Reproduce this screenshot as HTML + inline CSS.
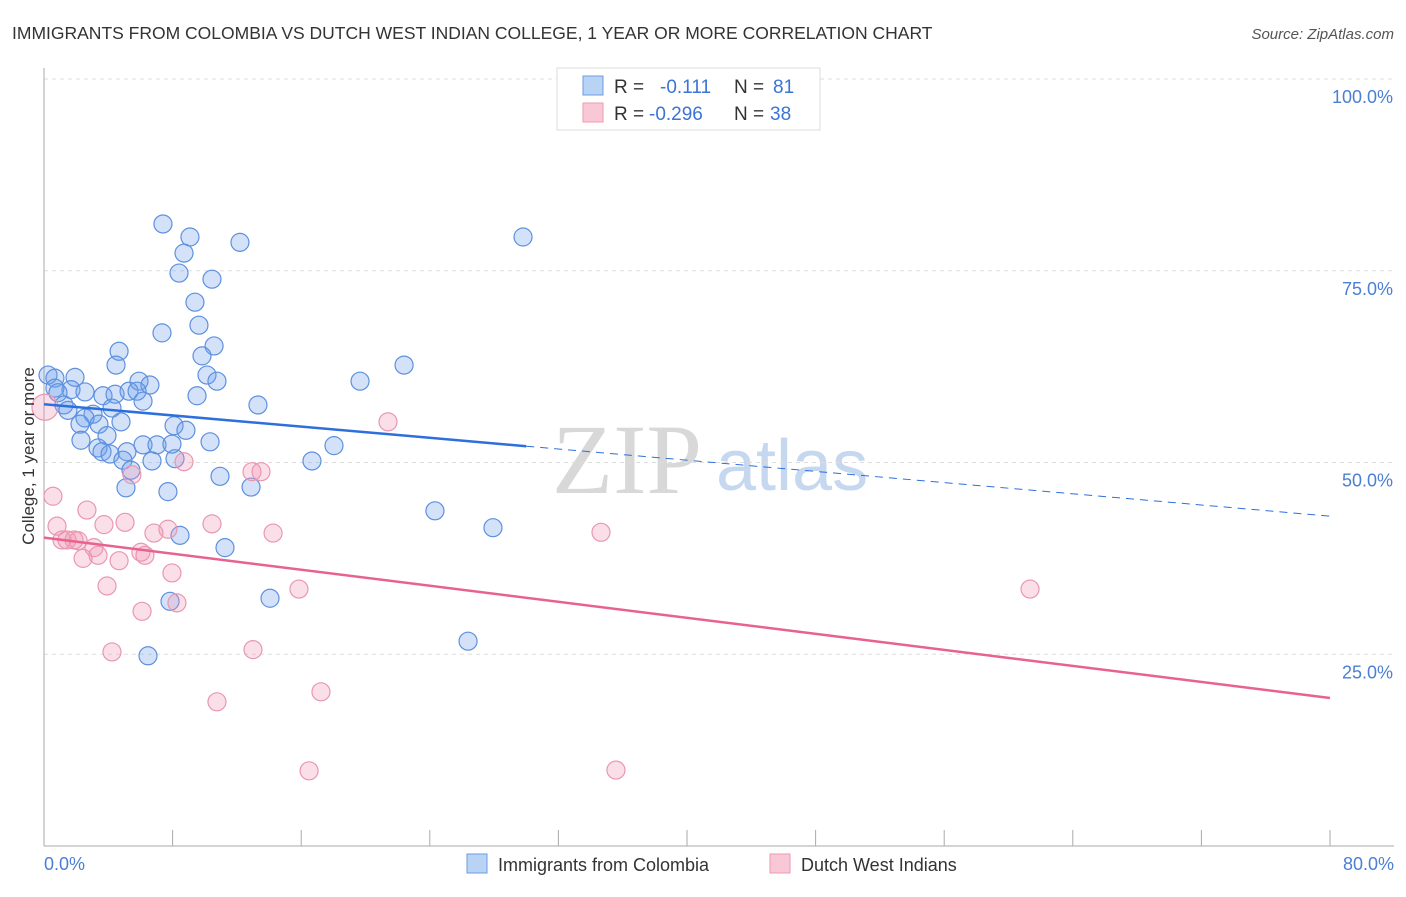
<!DOCTYPE html>
<html><head><meta charset="utf-8"><style>
body{margin:0;background:#fff;font-family:"Liberation Sans",sans-serif;}
svg text{font-family:"Liberation Sans",sans-serif;}
</style></head><body>
<svg id="chart" width="1406" height="892" xmlns="http://www.w3.org/2000/svg">
<text x="12" y="39" font-size="17.5" fill="#333">IMMIGRANTS FROM COLOMBIA VS DUTCH WEST INDIAN COLLEGE, 1 YEAR OR MORE CORRELATION CHART</text>
<text x="1394" y="39" font-size="15" fill="#555" text-anchor="end" font-style="italic">Source: ZipAtlas.com</text>
<g>
<text x="552" y="493" font-size="100" fill="#d8d8d8" font-family="Liberation Serif, serif" style="font-family:'Liberation Serif',serif">ZIP</text>
<text x="716" y="490" font-size="72" fill="#c6d8ef">atlas</text>
</g>
<g id="grid"></g>
<g id="axes"></g>
<g id="marks"></g>
<text transform="translate(34,456) rotate(-90)" font-size="17" fill="#333" text-anchor="middle">College, 1 year or more</text>
<text x="44" y="870" font-size="18" fill="#4a7fd4">0.0%</text>
<text x="1394" y="870" font-size="18" fill="#4a7fd4" text-anchor="end">80.0%</text>
<g>
<rect x="557" y="68" width="263" height="62" fill="#fff" stroke="#ddd"/>
<rect x="583" y="76" width="20" height="19" fill="#b9d3f5" stroke="#6a9be0"/>
<rect x="583" y="103" width="20" height="19" fill="#f9c8d6" stroke="#ec9ab2"/>
<text x="614" y="93" font-size="19" fill="#333">R =</text>
<text x="660" y="93" font-size="19" fill="#3a74d4">-0.111</text>
<text x="734" y="93" font-size="19" fill="#333">N =</text>
<text x="773" y="93" font-size="19" fill="#3a74d4">81</text>
<text x="614" y="120" font-size="19" fill="#333">R =</text>
<text x="649" y="120" font-size="19" fill="#3a74d4">-0.296</text>
<text x="734" y="120" font-size="19" fill="#333">N =</text>
<text x="770" y="120" font-size="19" fill="#3a74d4">38</text>
</g>
<g>
<rect x="467" y="854" width="20" height="19" fill="#b9d3f5" stroke="#6a9be0"/>
<text x="498" y="871" font-size="18" fill="#333">Immigrants from Colombia</text>
<rect x="770" y="854" width="20" height="19" fill="#f9c8d6" stroke="#ec9ab2"/>
<text x="801" y="871" font-size="18" fill="#333">Dutch West Indians</text>
</g>
</svg>
<script>
const yTicks=[25,50,75,100];
const yTickLabels=["25.0%","50.0%","75.0%","100.0%"];
const xTicks=[0,10,20,30,40,50,60,70,80,90,100];
const blueX=[7.40,9.08,12.19,29.80,8.71,8.40,10.45,9.39,9.64,7.34,10.58,4.67,9.83,4.48,22.40,10.14,10.76,19.66,5.91,6.59,0.25,0.68,1.93,1.68,0.68,0.87,2.55,3.67,4.42,5.29,5.79,9.52,6.16,1.24,1.49,4.23,13.31,3.05,2.55,3.42,4.79,8.09,8.83,2.24,3.92,2.30,3.36,3.61,6.16,7.03,7.96,10.33,18.04,5.16,4.11,4.91,6.72,8.15,16.67,10.95,5.41,12.88,5.10,7.71,24.32,27.93,8.46,11.26,7.84,14.06,6.47,26.38];
const blueY=[81.1,79.4,78.7,79.4,77.3,74.7,73.9,70.9,67.9,66.9,65.2,64.5,63.9,62.7,62.7,61.4,60.6,60.6,60.6,60.1,61.4,61.0,61.1,59.5,59.7,59.1,59.2,58.7,58.9,59.3,59.3,58.7,58.0,57.5,56.8,57.1,57.5,56.3,55.8,55.0,55.3,54.8,54.2,55.0,53.5,52.9,51.9,51.4,52.3,52.3,52.4,52.7,52.2,51.4,51.1,50.3,50.2,50.5,50.2,48.2,49.0,46.8,46.7,46.2,43.7,41.5,40.5,38.9,31.9,32.3,24.8,26.7];
const pinkX=[0.56,21.40,0.81,2.67,5.04,3.73,10.45,7.71,6.84,14.25,34.65,1.12,1.43,1.87,2.12,3.11,3.36,2.43,4.67,6.03,6.28,7.96,3.92,15.86,61.34,6.10,8.27,4.23,13.00,17.23,10.76,16.49,35.58,12.94,13.50,8.71,5.47,0.06];
const pinkY=[45.6,55.3,41.7,43.8,42.2,41.9,42.0,41.3,40.8,40.8,40.9,39.9,39.9,39.9,39.8,38.9,37.9,37.5,37.2,38.3,37.9,35.6,33.9,33.5,33.5,30.6,31.7,25.3,25.6,20.1,18.8,9.8,9.9,48.8,48.8,50.1,48.4,57.2];
const blueTrend=[57.6,43.0];
const blueSolidEnd=30.0;
const pinkTrend=[40.2,19.3];
const NS="http://www.w3.org/2000/svg";
const X0=44,X1=1330,Y0=846,Y100=79;
function sx(v){return X0+(X1-X0)*v/80;}
function sy(v){return Y0-(Y0-Y100)*v/100;}
function mk(tag,attrs,parent){const e=document.createElementNS(NS,tag);for(const k in attrs)e.setAttribute(k,attrs[k]);parent.appendChild(e);return e;}
const grid=document.getElementById('grid'),axes=document.getElementById('axes'),marks=document.getElementById('marks');
yTicks.forEach((t,i)=>{
 const l=mk('line',{x1:X0,x2:1394,y1:sy(t),y2:sy(t),stroke:'#ddd','stroke-dasharray':'4,4'},grid);
 
 
 const tx=mk('text',{x:1393,y:sy(t)+24,'font-size':18,fill:'#4a7fd4','text-anchor':'end'},grid);
 tx.textContent=yTickLabels[i];
 
 
});
const ya=mk('line',{x1:X0,x2:X0,y1:68,y2:Y0,stroke:'#aaa'},axes);


const xa=mk('line',{x1:X0,x2:1394,y1:Y0,y2:Y0,stroke:'#aaa'},axes);


xTicks.forEach(t=>{const px=X0+(X1-X0)*t/100;
 const tk=mk('line',{x1:px,x2:px,y1:830,y2:Y0,stroke:'#aaa'},axes);
 
 
});
function dot(x,y,c,s,n,r){const e=mk('circle',{cx:sx(x),cy:sy(y),r:r||9,fill:c,stroke:s,'stroke-width':1.2},marks);
 
 }
blueX.forEach((x,i)=>dot(x,blueY[i],'rgba(110,160,235,0.3)','#5d90df','colombia-point'));
pinkX.forEach((x,i)=>dot(x,pinkY[i],'rgba(242,150,180,0.3)','#e997b0','dutch-west-indian-point',i==pinkX.length-1?13:9));
const bEnd=blueTrend[0]+(blueTrend[1]-blueTrend[0])*blueSolidEnd/80;
const b1=mk('line',{x1:sx(0),y1:sy(blueTrend[0]),x2:sx(blueSolidEnd),y2:sy(bEnd),stroke:'#2d6fdc','stroke-width':2.5},marks);


const b2=mk('line',{x1:sx(blueSolidEnd),y1:sy(bEnd),x2:sx(80),y2:sy(blueTrend[1]),stroke:'#2d6fdc','stroke-width':1,'stroke-dasharray':'8,6'},marks);


const p1=mk('line',{x1:sx(0),y1:sy(pinkTrend[0]),x2:sx(80),y2:sy(pinkTrend[1]),stroke:'#e8628f','stroke-width':2.5},marks);


</script>
</body></html>
